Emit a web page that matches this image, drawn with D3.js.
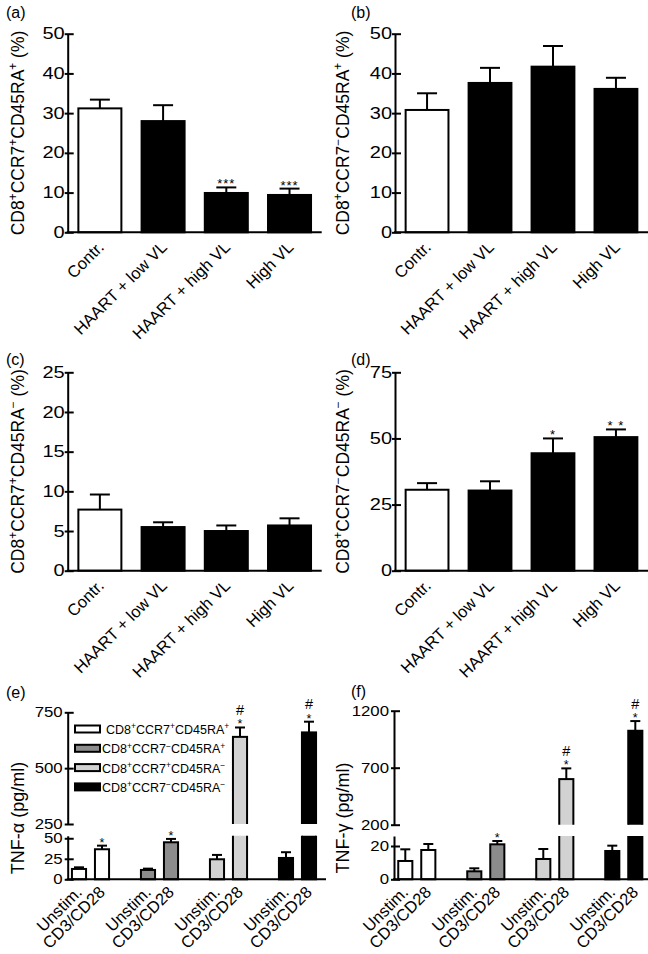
<!DOCTYPE html>
<html><head><meta charset="utf-8">
<script src="https://cdn.jsdelivr.net/npm/d3@7"></script>
<style>
body{margin:0;background:#fff;}
svg{display:block;font-family:"Liberation Sans",Arial,Helvetica,sans-serif;}
</style></head><body>
<svg id="chart" width="648" height="954"></svg>
<script>
// ---------- DATA ----------
const vlGroups = ["Contr.", "HAART + low VL", "HAART + high VL", "High VL"];
const vlFills = ["#ffffff", "#000000", "#000000", "#000000"];

const aMean = [31.2, 28.0, 9.9, 9.4];
const aSem  = [2.2, 4.0, 1.4, 1.6];
const aMarks = ["", "", "***", "***"];
const aTicks = [0, 10, 20, 30, 40, 50];

const bMean = [30.8, 37.6, 41.7, 36.1];
const bSem  = [4.2, 3.8, 5.2, 2.8];
const bMarks = ["", "", "", ""];
const bTicks = [0, 10, 20, 30, 40, 50];

const cMean = [7.7, 5.5, 5.0, 5.7];
const cSem  = [1.9, 0.6, 0.7, 0.9];
const cMarks = ["", "", "", ""];
const cTicks = [0, 5, 10, 15, 20, 25];

const dMean = [30.6, 30.3, 44.4, 50.5];
const dSem  = [2.5, 3.5, 5.6, 2.9];
const dMarks = ["", "", "*", "* *"];
const dTicks = [0, 25, 50, 75];

const subsets = ["CD8^+CCR7^+CD45RA^+", "CD8^+CCR7^\u2212CD45RA^+", "CD8^+CCR7^+CD45RA^\u2212", "CD8^+CCR7^\u2212CD45RA^\u2212"];
const subsetFills = ["#ffffff", "#8c8c8c", "#d2d2d2", "#000000"];
const conditions = ["Unstim.", "CD3/CD28"];

const eUnstim = [12.6, 11.4, 24.4, 26.0];
const eUnstimSem = [2.0, 1.6, 5.3, 7.0];
const eStim = [36.6, 45.1, 640, 660];
const eStimSem = [4.4, 4.1, 42, 48];
const eStars = ["*", "*", "*", "*"];
const eHash = ["", "", "#", "#"];
const eUpperTicks = [250, 500, 750];
const eLowerTicks = [0, 25, 50];

const fUnstim = [11.0, 4.8, 12.2, 17.0];
const fUnstimSem = [7.0, 1.8, 6.0, 3.2];
const fStim = [17.6, 21.0, 600, 1024];
const fStimSem = [3.6, 2.0, 94, 85];
const fStars = ["", "*", "*", "*"];
const fHash = ["", "", "#", "#"];
const fUpperTicks = [200, 700, 1200];
const fLowerTicks = [0, 20];

// ---------- HELPERS ----------
const svg = d3.select("#chart");
const FS = 16;

function richText(sel, str, size) {
  const parts = [];
  let buf = "";
  for (let i = 0; i < str.length; i++) {
    if (str[i] === "^") { if (buf) parts.push([buf, false]); buf = ""; parts.push([str[i+1], true]); i++; }
    else buf += str[i];
  }
  if (buf) parts.push([buf, false]);
  let up = false;
  parts.forEach(([t, sup]) => {
    const ts = sel.append("tspan").text(t);
    if (sup) { ts.attr("font-size", size * 0.68).attr("dy", up ? 0 : -size * 0.38); up = true; }
    else { if (up) ts.attr("dy", size * 0.38); up = false; }
  });
}

function panelLabel(txt, x, y) {
  svg.append("text").attr("x", x).attr("y", y).attr("font-size", FS).text(txt);
}

function styleYAxis(g, fs, sx, off) {
  g.select(".domain").attr("stroke", "#000").attr("stroke-width", 2);
  g.selectAll(".tick line").attr("stroke", "#000").attr("stroke-width", 2).attr("x1", 6).attr("x2", -3);
  g.selectAll(".tick text").attr("font-size", fs).attr("fill", "#000")
    .attr("font-family", '"Liberation Sans",Arial,sans-serif').attr("x", -off / sx)
    .attr("transform", `scale(${sx},1)`);
}

function vlPanel(o) {
  const x = d3.scaleBand().domain(vlGroups).range([o.axisX, o.xEnd]).paddingInner(0.288).paddingOuter(0.153);
  const y = d3.scaleLinear().domain([0, o.max]).range([o.yBottom, o.yTop]);
  const g = svg.append("g");
  g.selectAll("rect.bar").data(vlGroups).join("rect")
    .attr("x", d => x(d) + 1).attr("width", x.bandwidth() - 2)
    .attr("y", (d, i) => y(o.mean[i])).attr("height", (d, i) => o.yBottom - y(o.mean[i]))
    .attr("fill", (d, i) => vlFills[i]).attr("stroke", "#000").attr("stroke-width", 2);
  vlGroups.forEach((d, i) => {
    const cx = x(d) + x.bandwidth() / 2, y0 = y(o.mean[i]), y1 = y(o.mean[i] + o.sem[i]);
    g.append("line").attr("x1", cx).attr("x2", cx).attr("y1", y0).attr("y2", y1).attr("stroke", "#000").attr("stroke-width", 2);
    g.append("line").attr("x1", cx - 10).attr("x2", cx + 10).attr("y1", y1).attr("y2", y1).attr("stroke", "#000").attr("stroke-width", 2);
    if (o.marks[i]) g.append("text").attr("x", cx).attr("y", y1 + 1).attr("text-anchor", "middle")
      .attr("font-size", 13).attr("letter-spacing", 1).text(o.marks[i]);
    g.append("text").attr("transform", `translate(${cx + 5},${o.yBottom + 16}) rotate(-45)`)
      .attr("text-anchor", "end").attr("font-size", 16.5).text(d);
  });
  const ya = g.append("g").attr("transform", `translate(${o.axisX},0)`)
    .call(d3.axisLeft(y).tickValues(o.ticks).tickFormat(d3.format("d")).tickSizeOuter(0).tickSizeInner(4));
  styleYAxis(ya, 16, 1.25, 3);
  g.append("line").attr("x1", o.axisX - 1).attr("x2", o.xEnd).attr("y1", o.yBottom).attr("y2", o.yBottom)
    .attr("stroke", "#000").attr("stroke-width", 2);
  const t = g.append("text").attr("transform", `translate(${o.titleX},${(o.yTop + o.yBottom) / 2}) rotate(-90)`)
    .attr("text-anchor", "middle").attr("font-size", 17.5);
  richText(t, o.title, 17.5);
}

vlPanel({axisX: 67.7, xEnd: 321.7, yTop: 33.7, yBottom: 232.3, max: 50, ticks: aTicks, mean: aMean, sem: aSem, marks: aMarks,
  title: "CD8^+CCR7^+CD45RA^+ (%)", titleX: 24});
vlPanel({axisX: 395, xEnd: 648, yTop: 33.7, yBottom: 232.3, max: 50, ticks: bTicks, mean: bMean, sem: bSem, marks: bMarks,
  title: "CD8^+CCR7^\u2212CD45RA^+ (%)", titleX: 349});
vlPanel({axisX: 67.7, xEnd: 321.7, yTop: 372.3, yBottom: 570.7, max: 25, ticks: cTicks, mean: cMean, sem: cSem, marks: cMarks,
  title: "CD8^+CCR7^+CD45RA^\u2212 (%)", titleX: 24});
vlPanel({axisX: 395, xEnd: 648, yTop: 372.3, yBottom: 570.7, max: 75, ticks: dTicks, mean: dMean, sem: dSem, marks: dMarks,
  title: "CD8^+CCR7^\u2212CD45RA^\u2212 (%)", titleX: 349});

panelLabel("(a)", 6, 18);
panelLabel("(b)", 351, 18);
panelLabel("(c)", 6, 365);
panelLabel("(d)", 351, 365);
panelLabel("(e)", 6, 698);
panelLabel("(f)", 351, 697);

let clipId = 0;
function cytoPanel(o) {
  const x0 = d3.scaleBand().domain(subsets).range([o.axisX, o.axisX + 252.6]).paddingInner(0.433).paddingOuter(0.047);
  const x1 = d3.scaleBand().domain(conditions).range([0, x0.bandwidth()]).paddingInner(0.3).paddingOuter(0);
  const yU = d3.scaleLinear().domain(o.upperDomain).range(o.upperRange);
  const yL = d3.scaleLinear().domain(o.lowerDomain).range(o.lowerRange);
  const g = svg.append("g");
  const cu = "clipU" + (clipId), cl = "clipL" + (clipId++);
  const defs = svg.append("defs");
  defs.append("clipPath").attr("id", cu).append("rect").attr("x", 0).attr("y", 0).attr("width", 648).attr("height", yU(o.upperDomain[0]));
  defs.append("clipPath").attr("id", cl).append("rect").attr("x", 0).attr("y", yL(o.lowerDomain[1])).attr("width", 648).attr("height", 954);
  const lowMax = o.lowerDomain[1];
  subsets.forEach((s, si) => {
    conditions.forEach((c, ci) => {
      const v = ci === 0 ? o.unstim[si] : o.stim[si];
      const e = ci === 0 ? o.unstimSem[si] : o.stimSem[si];
      const bx = x0(s) + x1(c), bw = x1.bandwidth(), cx = bx + bw / 2;
      const fill = subsetFills[si];
      let yTopV, yErr;
      if (v <= lowMax) {
        g.append("rect").attr("x", bx + 1).attr("width", bw - 2).attr("y", yL(v)).attr("height", yL(0) - yL(v))
          .attr("fill", fill).attr("stroke", "#000").attr("stroke-width", 2);
        yTopV = yL(v); yErr = yL(v + e);
      } else {
        g.append("rect").attr("clip-path", `url(#${cu})`).attr("x", bx + 1).attr("width", bw - 2)
          .attr("y", yU(v)).attr("height", yU(o.upperDomain[0]) - yU(v) + 6)
          .attr("fill", fill).attr("stroke", "#000").attr("stroke-width", 2);
        g.append("rect").attr("clip-path", `url(#${cl})`).attr("x", bx + 1).attr("width", bw - 2)
          .attr("y", yL(lowMax) - 6).attr("height", yL(0) - yL(lowMax) + 6)
          .attr("fill", fill).attr("stroke", "#000").attr("stroke-width", 2);
        yTopV = yU(v); yErr = yU(v + e);
      }
      g.append("line").attr("x1", cx).attr("x2", cx).attr("y1", yTopV).attr("y2", yErr).attr("stroke", "#000").attr("stroke-width", 2);
      g.append("line").attr("x1", cx - 5).attr("x2", cx + 5).attr("y1", yErr).attr("y2", yErr).attr("stroke", "#000").attr("stroke-width", 2);
      if (ci === 1) {
        if (o.stars[si]) g.append("text").attr("x", cx).attr("y", yErr + 1).attr("text-anchor", "middle").attr("font-size", 12.5).text(o.stars[si]);
        if (o.hash[si]) g.append("text").attr("x", cx).attr("y", yErr - 12.5).attr("text-anchor", "middle").attr("font-size", 14.5).text(o.hash[si]);
      }
      g.append("text").attr("transform", `translate(${cx + 4},${yL(0) + 14}) rotate(-45)`)
        .attr("text-anchor", "end").attr("font-size", 16.5).text(c);
    });
  });
  const ua = g.append("g").attr("transform", `translate(${o.axisX},0)`)
    .call(d3.axisLeft(yU).tickValues(o.upperTicks).tickFormat(d3.format("d")).tickSizeOuter(0).tickSizeInner(4));
  styleYAxis(ua, 14, 1.2, 5);
  const la = g.append("g").attr("transform", `translate(${o.axisX},0)`)
    .call(d3.axisLeft(yL).tickValues(o.lowerTicks).tickFormat(d3.format("d")).tickSizeOuter(0).tickSizeInner(4));
  styleYAxis(la, 14, 1.2, 5);
  g.append("line").attr("x1", o.axisX - 1).attr("x2", o.xEnd).attr("y1", yL(0)).attr("y2", yL(0))
    .attr("stroke", "#000").attr("stroke-width", 2);
  g.append("text").attr("transform", `translate(${o.titleX},${o.titleY}) rotate(-90)`)
    .attr("text-anchor", "middle").attr("font-size", 18).text(o.title);
}

cytoPanel({axisX: 67.7, xEnd: 326, upperDomain: [250, 750], upperRange: [824, 712.3], lowerDomain: [0, 53], lowerRange: [879.3, 835.8],
  upperTicks: eUpperTicks, lowerTicks: eLowerTicks, unstim: eUnstim, unstimSem: eUnstimSem, stim: eStim, stimSem: eStimSem,
  stars: eStars, hash: eHash, title: "TNF-\u03b1 (pg/ml)", titleX: 24, titleY: 818});
cytoPanel({axisX: 394, xEnd: 648, upperDomain: [200, 1200], upperRange: [824.7, 710.7], lowerDomain: [0, 26], lowerRange: [879.3, 836],
  upperTicks: fUpperTicks, lowerTicks: fLowerTicks, unstim: fUnstim, unstimSem: fUnstimSem, stim: fStim, stimSem: fStimSem,
  stars: fStars, hash: fHash, title: "TNF-\u03b3 (pg/ml)", titleX: 349, titleY: 818});

// legend in (e)
const lg = svg.append("g");
subsets.forEach((s, i) => {
  const yy = 729 + i * 19.3;
  lg.append("rect").attr("x", 75).attr("y", yy - 3.5).attr("width", 25).attr("height", 7)
    .attr("fill", subsetFills[i]).attr("stroke", "#000").attr("stroke-width", 2);
  const t = lg.append("text").attr("x", i === 0 ? 106 : 102).attr("y", yy + 5).attr("font-size", 12.5);
  richText(t, s, 12.5);
});
</script>
</body></html>
